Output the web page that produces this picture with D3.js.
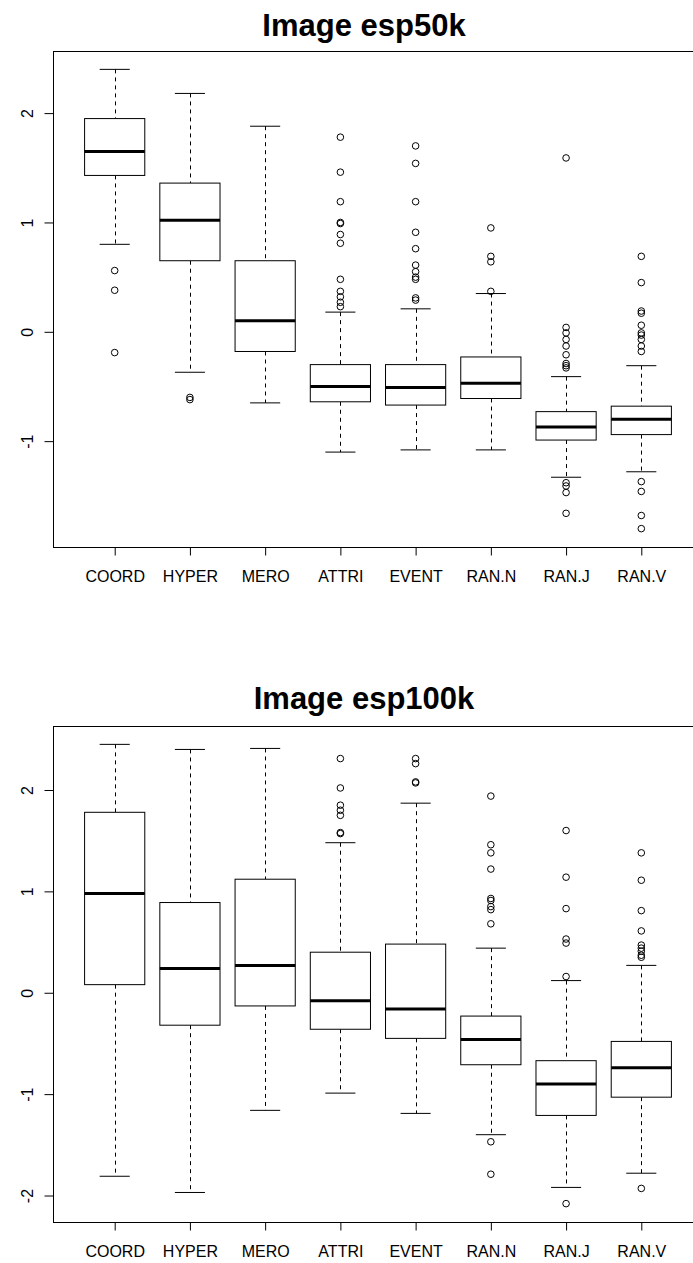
<!DOCTYPE html>
<html>
  <head>
    <meta charset="utf-8">
    <script src="https://d3js.org/d3.v7.min.js"></script>
    <style>
      body { margin: 0; background: #fff; }
      svg text { font-family: "Liberation Sans", Arial, Helvetica, sans-serif; fill: #000; }
      .title { font-size: 31px; font-weight: bold; }
      .tick-label { font-size: 16px; }
    </style>
  </head>
<body>
  <script type="text/javascript">
    "use strict";
    //
    // data (both panels share the categories)
    //
    var categories = ["COORD", "HYPER", "MERO", "ATTRI", "EVENT", "RAN.N", "RAN.J", "RAN.V"];

    // esp50k panel
    var esp50kLow    = [0.80, -0.37, -0.65, -1.10, -1.08, -1.08, -1.33, -1.28];
    var esp50kQ1     = [1.43, 0.65, -0.18, -0.64, -0.67, -0.61, -0.99, -0.94];
    var esp50kMedian = [1.65, 1.02, 0.10, -0.50, -0.51, -0.47, -0.87, -0.80];
    var esp50kQ3     = [1.95, 1.36, 0.65, -0.30, -0.30, -0.23, -0.73, -0.68];
    var esp50kHigh   = [2.40, 2.18, 1.88, 0.18, 0.21, 0.35, -0.41, -0.31];
    var esp50kOutliers = [
      [0.56, 0.38, -0.19],
      [-0.60, -0.62],
      [],
      [1.78, 1.46, 1.19, 1.00, 0.99, 0.89, 0.81, 0.48, 0.37, 0.32, 0.27, 0.23],
      [1.70, 1.54, 1.19, 0.91, 0.76, 0.61, 0.55, 0.50, 0.48, 0.31, 0.29],
      [0.95, 0.69, 0.64, 0.37],
      [1.59, 0.04, -0.01, -0.07, -0.13, -0.21, -0.29, -0.31, -0.33, -1.38, -1.41, -1.47, -1.66],
      [0.69, 0.45, 0.19, 0.17, 0.06, -0.01, -0.03, -0.07, -0.13, -0.18, -1.37, -1.46, -1.68, -1.80]
    ];

    // esp100k panel
    var esp100kLow    = [-1.81, -1.97, -1.16, -0.99, -1.19, -1.40, -1.92, -1.78];
    var esp100kQ1     = [0.08, -0.32, -0.13, -0.36, -0.45, -0.71, -1.21, -1.03];
    var esp100kMedian = [0.98, 0.24, 0.27, -0.08, -0.16, -0.46, -0.90, -0.74];
    var esp100kQ3     = [1.78, 0.89, 1.12, 0.40, 0.48, -0.23, -0.67, -0.48];
    var esp100kHigh   = [2.45, 2.40, 2.41, 1.48, 1.87, 0.44, 0.12, 0.27];
    var esp100kOutliers = [
      [],
      [],
      [],
      [2.31, 2.02, 1.85, 1.80, 1.75, 1.58, 1.57],
      [2.31, 2.26, 2.08, 2.07],
      [1.94, 1.46, 1.38, 1.22, 0.93, 0.91, 0.85, 0.82, 0.68, -1.47, -1.79],
      [1.60, 1.14, 0.83, 0.53, 0.49, 0.16, -2.08],
      [1.38, 1.11, 0.81, 0.61, 0.47, 0.44, 0.41, 0.37, 0.35, -1.93]
    ];

    var yTicks = [-2, -1, 0, 1, 2];

    var width = 693, height = 1263;
    var svg = d3.select("body")
      .append("svg")
        .attr("width", width)
        .attr("height", height);

    //
    // one R style boxplot panel
    //
    function drawPanel(opt) {
      var n = categories.length;
      var g = svg.append("g");

      // R extends the range by 4% on each side
      var allVals = opt.low.concat(opt.high);
      opt.outliers.forEach(function(o) { allVals = allVals.concat(o); });
      var ext = d3.extent(allVals);
      var pad = (ext[1] - ext[0]) * 0.04;

      var x = d3.scaleLinear()
        .domain([0.5 - n * 0.04, n + 0.5 + n * 0.04])
        .range([opt.left, opt.left + 650]);
      var y = d3.scaleLinear()
        .domain([ext[0] - pad, ext[1] + pad])
        .range([opt.bottom, opt.top]);

      var boxHalf = (x(1.4) - x(1)); // boxwex 0.8
      var capHalf = boxHalf / 2;

      // plot frame
      g.append("rect")
        .attr("x", opt.left + 0.5)
        .attr("y", opt.top + 0.5)
        .attr("width", 660)
        .attr("height", opt.bottom - opt.top)
        .attr("fill", "none")
        .attr("stroke", "#000")
        .attr("stroke-width", 1);

      // title
      g.append("text")
        .attr("class", "title")
        .attr("x", 364)
        .attr("y", opt.titleY)
        .attr("text-anchor", "middle")
        .text(opt.title);

      // x axis
      var xAxis = d3.axisBottom(x)
        .tickValues(d3.range(1, n + 1))
        .tickSize(8)
        .tickPadding(15)
        .tickFormat(function(d) { return categories[d - 1]; });
      var xg = g.append("g")
        .attr("transform", "translate(0," + (opt.bottom + 0.5) + ")")
        .call(xAxis);
      xg.select(".domain").remove();
      xg.selectAll("text").attr("class", "tick-label").attr("font-size", null).attr("font-family", null);
      xg.selectAll("line").attr("stroke", "#000");

      // y axis with rotated labels
      var yAxis = d3.axisLeft(y)
        .tickValues(yTicks.filter(function(t) { return t >= y.domain()[0] && t <= y.domain()[1]; }))
        .tickSize(9)
        .tickFormat(d3.format("d"));
      var yg = g.append("g")
        .attr("transform", "translate(" + (opt.left + 0.5) + ",0)")
        .call(yAxis);
      yg.select(".domain").remove();
      yg.selectAll("line").attr("stroke", "#000");
      yg.selectAll("text")
        .attr("class", "tick-label")
        .attr("font-size", null).attr("font-family", null)
        .attr("x", null).attr("dy", null)
        .attr("text-anchor", "middle")
        .attr("transform", "translate(-21,0) rotate(-90)")
        .text(function(d) { return d < 0 ? "-" + Math.abs(d) : d; });

      var idx = d3.range(n);
      var boxes = g.selectAll("g.box")
        .data(idx)
        .enter()
        .append("g")
        .attr("class", "box");

      // dashed whiskers
      boxes.append("line")
        .attr("x1", function(i) { return Math.round(x(i + 1)) + 0.5; })
        .attr("x2", function(i) { return Math.round(x(i + 1)) + 0.5; })
        .attr("y1", function(i) { return y(opt.high[i]); })
        .attr("y2", function(i) { return y(opt.q3[i]); })
        .attr("stroke", "#000")
        .attr("stroke-dasharray", "4,4");
      boxes.append("line")
        .attr("x1", function(i) { return Math.round(x(i + 1)) + 0.5; })
        .attr("x2", function(i) { return Math.round(x(i + 1)) + 0.5; })
        .attr("y1", function(i) { return y(opt.q1[i]); })
        .attr("y2", function(i) { return y(opt.low[i]); })
        .attr("stroke", "#000")
        .attr("stroke-dasharray", "4,4");

      // staples
      [opt.high, opt.low].forEach(function(arr) {
        boxes.append("line")
          .attr("x1", function(i) { return x(i + 1) - capHalf; })
          .attr("x2", function(i) { return x(i + 1) + capHalf; })
          .attr("y1", function(i) { return y(arr[i]); })
          .attr("y2", function(i) { return y(arr[i]); })
          .attr("stroke", "#000");
      });

      // boxes
      boxes.append("rect")
        .attr("x", function(i) { return x(i + 1) - boxHalf; })
        .attr("y", function(i) { return y(opt.q3[i]); })
        .attr("width", boxHalf * 2)
        .attr("height", function(i) { return y(opt.q1[i]) - y(opt.q3[i]); })
        .attr("fill", "#fff")
        .attr("stroke", "#000");

      // medians
      boxes.append("line")
        .attr("x1", function(i) { return x(i + 1) - boxHalf; })
        .attr("x2", function(i) { return x(i + 1) + boxHalf; })
        .attr("y1", function(i) { return y(opt.median[i]); })
        .attr("y2", function(i) { return y(opt.median[i]); })
        .attr("stroke", "#000")
        .attr("stroke-width", 3);

      // outliers
      boxes.selectAll("circle")
        .data(function(i) { return opt.outliers[i].map(function(v) { return { i: i, v: v }; }); })
        .enter()
        .append("circle")
        .attr("cx", function(d) { return x(d.i + 1); })
        .attr("cy", function(d) { return y(d.v); })
        .attr("r", 3.3)
        .attr("fill", "none")
        .attr("stroke", "#000");
    }

    drawPanel({
      title: "Image esp50k", titleY: 36,
      left: 53, top: 51, bottom: 547,
      low: esp50kLow, q1: esp50kQ1, median: esp50kMedian, q3: esp50kQ3, high: esp50kHigh,
      outliers: esp50kOutliers
    });
    drawPanel({
      title: "Image esp100k", titleY: 709,
      left: 53, top: 726, bottom: 1222,
      low: esp100kLow, q1: esp100kQ1, median: esp100kMedian, q3: esp100kQ3, high: esp100kHigh,
      outliers: esp100kOutliers
    });
  </script>
</body>
</html>
